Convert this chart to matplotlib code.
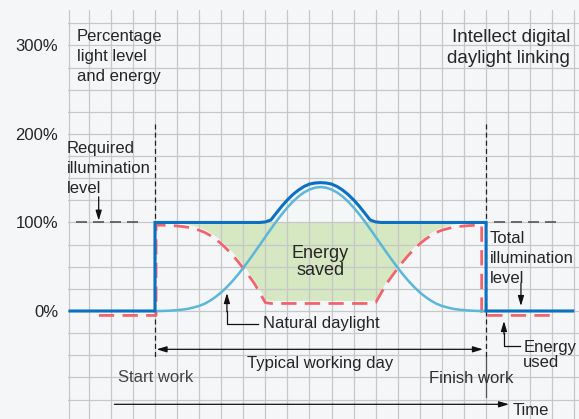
import matplotlib.pyplot as plt
import numpy as np

plt.rcParams['font.family'] = ['Liberation Sans', 'DejaVu Sans']

# sample times across the working day (work starts at 4, finishes at 19)
hours = np.linspace(4, 19, 61)

# natural daylight contribution (%)
daylight = [0, 0, 0.2, 0.5, 1.0, 1.6, 2.5, 4.0, 5.7, 8.2, 11.7, 16.0, 21.0, 26.9,
            33.5, 40.8, 48.7, 57.1, 65.8, 74.7, 83.7, 92.6, 101.2, 109.4, 116.9,
            123.6, 129.3, 133.9, 137.2, 139.3, 140,
            139.3, 137.2, 133.9, 129.3, 123.6, 116.9, 109.4, 101.2, 92.6, 83.7,
            74.7, 65.8, 57.1, 48.7, 40.8, 33.5, 26.9, 21.0, 16.0, 11.7, 8.2, 5.7,
            4.0, 2.5, 1.6, 1.0, 0.5, 0.2, 0, 0]

# energy used by the luminaires (%)
energy_used = [97, 97, 96.8, 96.5, 96.0, 95.4, 94.5, 93.0, 91.3, 88.8, 85.3, 81.0,
               76.0, 70.1, 63.5, 56.2, 48.3, 39.9, 31.2, 20.5, 9.5] + [8.5] * 19 + \
              [9.5, 20.5, 31.2, 39.9, 48.3, 56.2, 63.5, 70.1, 76.0, 81.0, 85.3,
               88.8, 91.3, 93.0, 94.5, 95.4, 96.0, 96.5, 96.8, 97, 97]

# total illumination level (%)
total_light = [100] * 20 + [100.6, 102.8, 110.7, 118.5, 125.5, 131.6, 136.6, 140.6,
                            143.4, 144.6, 145, 144.6, 143.4, 140.6, 136.6, 131.6,
                            125.5, 118.5, 110.7, 102.8, 100.6] + [100] * 20

y_ticks = [0, 100, 200, 300]
y_tick_labels = ['0%', '100%', '200%', '300%']

start_work = 4
finish_work = 19

bg = '#f4f6f8'
ink = '#262626'
blue = '#0a70c0'
light_blue = '#5cb6d8'
red = '#f0646c'
green = '#d6e8c2'

fig = plt.figure(figsize=(5.79, 4.19), dpi=100, facecolor=bg)
ax = fig.add_axes([68 / 579, 0, 511 / 579, 409 / 419])
ax.set_facecolor(bg)
ax.set_xlim(0.06, 23.21)
ax.set_ylim(-122, 340)
for s in ax.spines.values():
    s.set_visible(False)
ax.set_xticks([])
ax.set_yticks(y_ticks, y_tick_labels)
ax.tick_params(axis='y', length=0, pad=7, labelsize=12, labelcolor=ink)

# grid
grid_kw = dict(color='#c5c7c9', lw=0.9, zorder=1)
ax.axvline(0.1, **grid_kw)
for gx in range(1, 24):
    ax.axvline(gx, **grid_kw)
for gy in range(-100, 341, 25):
    ax.axhline(gy, **grid_kw)

# energy saved area
used = np.array(energy_used)
floor = np.minimum(used + 3.5, 100)
ax.fill_between(hours, floor, 100, where=floor < 100, interpolate=True,
                color=green, lw=0, zorder=0.5)

# energy used (red dashed)
ux = hours.copy()
ux[0] = 4.05
ux[-1] = 18.8
rx = np.concatenate([[1.46, 4.05], ux, [18.8, 22.05]])
ry = np.concatenate([[-5, -5], used, [-5, -5]])
ax.plot(rx, ry, color=red, lw=2, ls=(0, (5.5, 3)), zorder=3)

# natural daylight
ax.plot(hours, daylight, color=light_blue, lw=1.8, zorder=4)

# total illumination
bx = np.concatenate([[0.15, start_work], hours, [finish_work, 22.93]])
by = np.concatenate([[0, 0], total_light, [0, 0]])
ax.plot(bx, by, color=blue, lw=2.2, zorder=5, solid_joinstyle='miter')

# required level dashes
ax.plot([0.42, 3.23], [100, 100], color='#555555', lw=1.2, ls=(0, (6.6, 3.6)), zorder=2)
ax.plot([19.36, 22.21], [100, 100], color='#555555', lw=1.2, ls=(0, (6.6, 3.6)), zorder=2)

# start / finish markers
vdash = dict(color='#222222', lw=0.9, ls=(0, (4, 2.5)), zorder=2)
ax.plot([start_work, start_work], [211, -52], **vdash)
ax.plot([finish_work, finish_work], [211, -52], **vdash)
ax.plot([finish_work, finish_work], [-52, -97], color='#555555', lw=0.9, zorder=2)

txt = dict(fontsize=12, color=ink, linespacing=1.4)
arrow = dict(arrowstyle='-|>,head_length=0.6,head_width=0.18', color='#111111',
             lw=0.9, shrinkA=0, shrinkB=0, mutation_scale=10)

ax.text(0.46, 318.6, 'Percentage\nlight level\nand energy', va='top', ha='left', **txt)
ax.text(22.8, 318.6, 'Intellect digital\ndaylight linking', va='top', ha='right',
        fontsize=13.5, color=ink, linespacing=1.32)

ax.text(-0.01, 192, 'Required\nillumination\nlevel', va='top', ha='left',
        clip_on=False, **txt)
ax.annotate('', xy=(1.45, 102), xytext=(1.45, 129), arrowprops=arrow)

ax.text(11.5, 55.4, 'Energy\nsaved', ha='center', va='center', fontsize=13,
        color=ink, linespacing=1.0)

ax.text(8.9, -13.9, 'Natural daylight', ha='left', va='center', fontsize=12, color=ink)
ax.plot([8.67, 7.26, 7.26], [-14.7, -14.7, 0], color='#111111', lw=0.9, zorder=6)
ax.annotate('', xy=(7.26, 20.3), xytext=(7.26, -1), arrowprops=arrow)

ax.text(19.18, 90, 'Total\nillumination\nlevel', va='top', ha='left', **txt)
ax.annotate('', xy=(20.58, 5.6), xytext=(20.58, 31.6), arrowprops=arrow)

ax.text(20.68, -49.7, 'Energy\nused', ha='left', va='center', fontsize=12,
        color=ink, linespacing=1.05)
ax.plot([20.54, 19.81, 19.81], [-39.5, -39.5, -25], color='#111111', lw=0.9, zorder=6)
ax.annotate('', xy=(19.81, -11.3), xytext=(19.81, -26), arrowprops=arrow)

ax.annotate('', xy=(4.07, -43.3), xytext=(18.86, -43.3),
            arrowprops=dict(arrow, arrowstyle='<|-|>,head_length=0.6,head_width=0.18'))
ax.text(11.5, -59.1, 'Typical working day', ha='center', va='center', fontsize=12, color=ink)

ax.text(2.34, -74.9, 'Start work', ha='left', va='center', fontsize=12, color='#454545')
ax.text(16.43, -76, 'Finish work', ha='left', va='center', fontsize=12, color='#303030')

ax.annotate('', xy=(20.04, -105.4), xytext=(2.16, -105.4), arrowprops=arrow)
ax.text(20.2, -111.9, 'Time', ha='left', va='center', fontsize=12, color=ink)

fig.savefig('out.png', dpi=100, facecolor=bg)
